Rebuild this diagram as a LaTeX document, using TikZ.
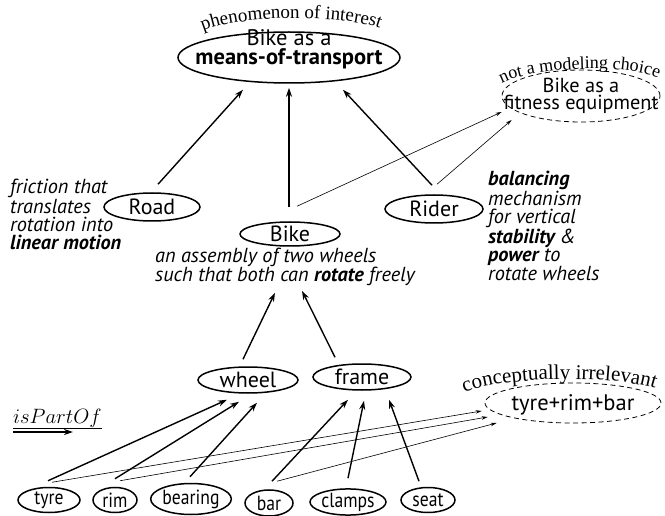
\documentclass[tikz,border=0pt]{standalone}
\usepackage{fontspec}
\setmainfont{PT Sans}
\newfontfamily\annotfont{Liberation Serif}
\newfontfamily\narrowfont[FakeStretch=0.86]{PT Sans}
\usetikzlibrary{shapes.geometric,arrows.meta,decorations.text}

\begin{document}
\begin{tikzpicture}[x=1pt,y=-1pt,
  oval/.style={ellipse, draw, line width=1.5pt, inner sep=0pt,
    font=\fontsize{22}{24}\selectfont},
  part/.style={oval, font=\narrowfont\fontsize{20.5}{22}\selectfont},
  ghost/.style={ellipse, draw, line width=0.8pt, dash pattern=on 5pt off 3.5pt,
    inner sep=0pt},
  label/.style={inner sep=0pt, align=center},
  desc/.style={inner sep=0pt, align=left, anchor=base west,
    font=\fontsize{20.3}{18.4}\selectfont\itshape},
  link/.style={line width=1.4pt, -{Stealth[length=9pt,width=6pt]}},
  thinlink/.style={line width=0.6pt, -{Stealth[length=6pt,width=3.5pt]}},
  arctext/.style 2 args={decorate, decoration={text along path, text align=center,
    text={|\annotfont\fontsize{#1}{#1}\selectfont|#2}}}
]
\useasboundingbox (0,0) rectangle (665,516);

% upper level: the phenomenon and the choice that is set aside
\node[oval, minimum width=222pt, minimum height=51pt] (top) at (289,57.5) {};
\node[label, font=\fontsize{22.5}{19}\selectfont] (toptext) at (289,49)
  {Bike as a\\\textbf{means-of-transport}};
\path[arctext={19}{phenomenon of interest}]
  (197,34) .. controls (230,14) and (350,13) .. (386,31);

\node[ghost, minimum width=158pt, minimum height=52pt] (fit) at (581,96) {};
\node[label, font=\fontsize{20.3}{17}\selectfont] (fittext) at (581,95.5)
  {Bike as a\\fitness equipment};
\path[arctext={18}{not a modeling choice}]
  (499,85) .. controls (525,68) and (625,62) .. (661,79);

% middle level
\node[oval, minimum width=96pt, minimum height=28pt] (road) at (152,207) {Road};
\node[oval, minimum width=100pt, minimum height=24pt] (bike) at (290,234) {Bike};
\node[oval, minimum width=98pt, minimum height=28pt] (rider) at (434,209) {Rider};

\node[desc] (roaddesc) at (10,250)
  {friction that\\translates\\rotation into\\\textbf{linear motion}};
\node[desc, font=\fontsize{20.3}{19}\selectfont\itshape] (bikedesc) at (155,282)
  {an assembly of two wheels\\such that both can \textbf{rotate} freely};
\node[desc] (riderdesc) at (488,280)
  {\textbf{balancing}\\mechanism\\for vertical\\\textbf{stability} \&\\\textbf{power} to\\rotate wheels};

% lower level
\node[oval, minimum width=100pt, minimum height=26pt] (wheel) at (248,380) {wheel};
\node[oval, minimum width=98pt, minimum height=26pt] (frame) at (362,377) {frame};

\node[ghost, minimum width=176pt, minimum height=40pt] (irr) at (573,403) {};
\node[label, font=\fontsize{22.5}{24}\selectfont] (irrtext) at (573,405) {tyre+rim+bar};
\path[arctext={21}{conceptually irrelevant}]
  (456,397) .. controls (492,374) and (628,374) .. (664,392);

% parts
\node[part, minimum width=62pt, minimum height=25pt] (tyre) at (49,500) {tyre};
\node[part, minimum width=44pt, minimum height=25pt] (rim) at (115,500) {rim};
\node[part, minimum width=78pt, minimum height=31pt] (bearing) at (191,499) {bearing};
\node[part, minimum width=48pt, minimum height=26pt] (bar) at (269,503) {bar};
\node[part, minimum width=76pt, minimum height=25pt] (clamps) at (348,502) {clamps};
\node[part, minimum width=54pt, minimum height=25pt] (seat) at (428,500) {seat};

% legend
\node[inner sep=0pt, anchor=base west, font=\fontsize{20.5}{22}\selectfont] (legend) at (13,423)
  {\underline{$isPartOf$}};
\coordinate (legend-from) at (13,432);
\coordinate (legend-to) at (73,432);
\draw[link, line width=1.6pt] (legend-from) -- (legend-to);

% connectors towards the phenomenon
\draw[link] ([shift={(6,-8)}]road.north) -- ([shift={(-46,6)}]top.south);
\draw[link] ([shift={(-1,-14)}]bike.north) -- ([shift={(0,4)}]top.south);
\draw[link] ([shift={(-2,-9)}]rider.north) -- ([shift={(54,6)}]top.south);

\draw[thinlink] ([shift={(7,-15)}]bike.north) -- ([shift={(0,16)}]fit.west);
\draw[thinlink] ([shift={(3,-10)}]rider.north) -- ([shift={(10,24)}]fit.west);

% parts make up the bike
\draw[link] ([shift={(-5,-7)}]wheel.north) -- ([shift={(-15,46)}]bike.south);
\draw[link] ([shift={(-27,-6)}]frame.north) -- ([shift={(12,44)}]bike.south);

\draw[link] ([shift={(-1,-6)}]tyre.north) -- ([shift={(-21,6)}]wheel.south);
\draw[link] ([shift={(0,-8)}]rim.north) -- ([shift={(-9,8)}]wheel.south);
\draw[link] ([shift={(-1,-6)}]bearing.north) -- ([shift={(9,9)}]wheel.south);
\draw[link] ([shift={(3,-8)}]bar.north) -- ([shift={(-14,9)}]frame.south);
\draw[link] ([shift={(0,-10)}]clamps.north) -- ([shift={(2,10)}]frame.south);
\draw[link] ([shift={(-9,-5.5)}]seat.north) -- ([shift={(27,9)}]frame.south);

\draw[thinlink] ([shift={(3,-4.5)}]tyre.north) -- ([shift={(-3,8)}]irr.west);
\draw[thinlink] ([shift={(5,-6)}]rim.north) -- ([shift={(3,14)}]irr.west);
\draw[thinlink] ([shift={(8,-8)}]bar.north) -- ([shift={(12,20)}]irr.west);
\end{tikzpicture}
\end{document}
